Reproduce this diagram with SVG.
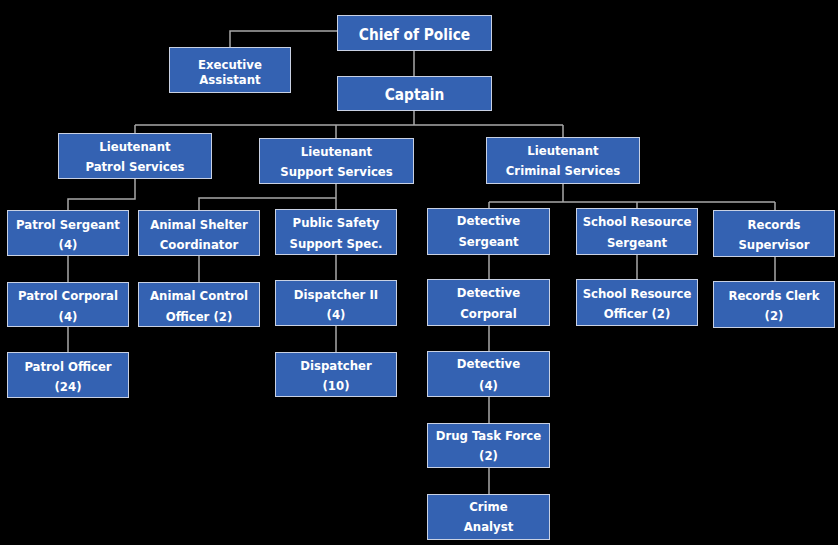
<svg xmlns="http://www.w3.org/2000/svg" width="838" height="545" viewBox="0 0 838 545">
<style>
.box{fill:#3462b2;stroke:#c9d1e3;stroke-width:1}
.t{font-family:"DejaVu Sans","Liberation Sans",sans-serif;font-stretch:condensed;font-weight:bold;font-size:13px;fill:#ffffff;text-anchor:middle}
.big{font-size:15.3px}
.c{fill:none;stroke:#a8a8a8;stroke-width:1.5}
</style>
<rect x="0" y="0" width="838" height="545" fill="#000000"/>
<g id="connectors" class="c">
<path d="M337,31 H230 V47"/>
<path d="M414,51 V76"/>
<path d="M414,111 V125"/>
<path d="M135,125 H563"/>
<path d="M135,125 V133"/>
<path d="M336,125 V138"/>
<path d="M563,125 V137"/>
<path d="M135,178 V199 H68 V210"/>
<path d="M68,255 V282"/>
<path d="M68,327 V352"/>
<path d="M336,183 V209"/>
<path d="M336,198 H199 V210"/>
<path d="M199,255 V282"/>
<path d="M336,254 V280"/>
<path d="M336,325 V352"/>
<path d="M563,183 V202"/>
<path d="M489,202 H775"/>
<path d="M489,202 V208"/>
<path d="M637,202 V208"/>
<path d="M775,202 V210"/>
<path d="M489,254 V279"/>
<path d="M489,325 V351"/>
<path d="M489,396 V423"/>
<path d="M489,467 V494"/>
<path d="M637,254 V279"/>
<path d="M775,256 V281"/>
</g>
<g id="chief"><rect class="box" x="337.5" y="15.5" width="154" height="35"/><text class="t big" x="414.5" y="40">Chief of Police</text></g>
<g id="exec"><rect class="box" x="169.5" y="47.5" width="121" height="45"/><text class="t" x="230" y="69">Executive</text><text class="t" x="230" y="84">Assistant</text></g>
<g id="captain"><rect class="box" x="337.5" y="76.5" width="154" height="34"/><text class="t big" x="414.5" y="100">Captain</text></g>
<g id="lt-patrol"><rect class="box" x="58.5" y="133.5" width="153" height="45"/><text class="t" x="135" y="150.5">Lieutenant</text><text class="t" x="135" y="170.5">Patrol Services</text></g>
<g id="lt-support"><rect class="box" x="259.5" y="138.5" width="154" height="45"/><text class="t" x="336.5" y="155.5">Lieutenant</text><text class="t" x="336.5" y="175.5">Support Services</text></g>
<g id="lt-criminal"><rect class="box" x="486.5" y="137.5" width="153" height="46"/><text class="t" x="563" y="154.5">Lieutenant</text><text class="t" x="563" y="174.5">Criminal Services</text></g>
<g id="patrol-sgt"><rect class="box" x="7.5" y="210.5" width="121" height="45"/><text class="t" x="68" y="228.5">Patrol Sergeant</text><text class="t" x="68" y="249">(4)</text></g>
<g id="patrol-corp"><rect class="box" x="7.5" y="282.5" width="121" height="44"/><text class="t" x="68" y="300">Patrol Corporal</text><text class="t" x="68" y="320.5">(4)</text></g>
<g id="patrol-officer"><rect class="box" x="7.5" y="352.5" width="121" height="45"/><text class="t" x="68" y="370.5">Patrol Officer</text><text class="t" x="68" y="391">(24)</text></g>
<g id="animal-shelter"><rect class="box" x="138.5" y="210.5" width="121" height="45"/><text class="t" x="199" y="228.5">Animal Shelter</text><text class="t" x="199" y="248.5">Coordinator</text></g>
<g id="animal-control"><rect class="box" x="138.5" y="282.5" width="121" height="44"/><text class="t" x="199" y="300">Animal Control</text><text class="t" x="199" y="320.5">Officer (2)</text></g>
<g id="public-safety"><rect class="box" x="275.5" y="209.5" width="121" height="45"/><text class="t" x="336" y="227">Public Safety</text><text class="t" x="336" y="248">Support Spec.</text></g>
<g id="dispatcher2"><rect class="box" x="275.5" y="280.5" width="121" height="45"/><text class="t" x="336" y="298.5">Dispatcher II</text><text class="t" x="336" y="318.5">(4)</text></g>
<g id="dispatcher"><rect class="box" x="275.5" y="352.5" width="121" height="44"/><text class="t" x="336" y="370">Dispatcher</text><text class="t" x="336" y="390">(10)</text></g>
<g id="det-sgt"><rect class="box" x="427.5" y="208.5" width="122" height="46"/><text class="t" x="488.5" y="225">Detective</text><text class="t" x="488.5" y="246">Sergeant</text></g>
<g id="det-corp"><rect class="box" x="427.5" y="279.5" width="122" height="46"/><text class="t" x="488.5" y="297">Detective</text><text class="t" x="488.5" y="318">Corporal</text></g>
<g id="detective"><rect class="box" x="427.5" y="351.5" width="122" height="45"/><text class="t" x="488.5" y="368">Detective</text><text class="t" x="488.5" y="390">(4)</text></g>
<g id="drug"><rect class="box" x="427.5" y="423.5" width="122" height="44"/><text class="t" x="488.5" y="439.5">Drug Task Force</text><text class="t" x="488.5" y="460">(2)</text></g>
<g id="crime-analyst"><rect class="box" x="427.5" y="494.5" width="122" height="45"/><text class="t" x="488.5" y="510.5">Crime</text><text class="t" x="488.5" y="530.5">Analyst</text></g>
<g id="sro-sgt"><rect class="box" x="576.5" y="208.5" width="121" height="46"/><text class="t" x="637" y="226">School Resource</text><text class="t" x="637" y="246.5">Sergeant</text></g>
<g id="sro-officer"><rect class="box" x="576.5" y="279.5" width="121" height="46"/><text class="t" x="637" y="297.5">School Resource</text><text class="t" x="637" y="318">Officer (2)</text></g>
<g id="records-sup"><rect class="box" x="713.5" y="210.5" width="121" height="46"/><text class="t" x="774" y="228.5">Records</text><text class="t" x="774" y="248.5">Supervisor</text></g>
<g id="records-clerk"><rect class="box" x="713.5" y="281.5" width="121" height="46"/><text class="t" x="774" y="299.5">Records Clerk</text><text class="t" x="774" y="320">(2)</text></g>
</svg>
